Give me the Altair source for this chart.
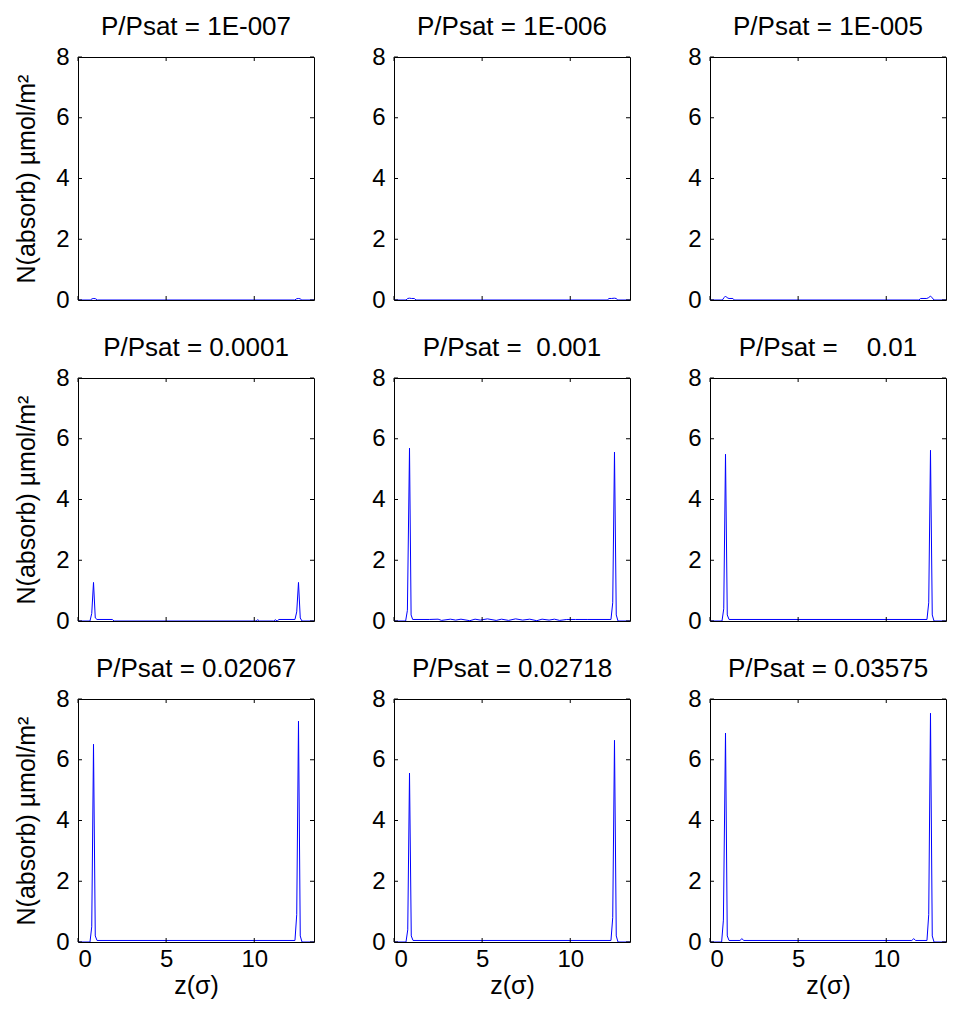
import altair as alt
import pandas as pd

TITLES = [
    "P/Psat = 1E-007", "P/Psat = 1E-006", "P/Psat = 1E-005",
    "P/Psat = 0.0001", "P/Psat =\u00a0\u00a00.001", "P/Psat =\u00a0\u00a0\u00a0\u00a00.01",
    "P/Psat = 0.02067", "P/Psat = 0.02718", "P/Psat = 0.03575",
]
X_TICKS = [0, 5, 10]
Y_TICKS = [0, 2, 4, 6, 8]
Z_MAX = 13.39
Y_MAX = 8

Z1 = [0, 0.7, 0.8, 0.9, 1.0, 1.1, 12.3, 12.4, 12.5, 12.6, 12.7, 13.39]
N1 = [0, 0, 0.04, 0.05, 0.04, 0, 0, 0.04, 0.05, 0.04, 0, 0]

Z2 = [0, 0.68, 0.78, 0.88, 1.0, 1.15, 1.25, 12.1, 12.2, 12.35, 12.5, 12.6, 12.7, 13.39]
N2 = [0, 0, 0.05, 0.06, 0.05, 0.05, 0, 0, 0.05, 0.05, 0.06, 0.05, 0, 0]

Z3 = [0, 0.7, 0.8, 0.88, 0.98, 1.08, 1.3, 1.38, 11.85, 11.95, 12.3, 12.41, 12.51, 12.61, 12.71, 13.39]
N3 = [0, 0, 0.08, 0.13, 0.07, 0.05, 0.05, 0, 0, 0.05, 0.05, 0.08, 0.13, 0.07, 0, 0]

Z4 = [0, 0.68, 0.78, 0.88, 0.98, 1.08, 1.95, 2.05, 10.1, 10.2, 10.3, 11.1, 11.2, 11.3, 11.4,
      12.31, 12.41, 12.51, 12.61, 12.71, 13.39]
N4 = [0, 0, 0.25, 1.27, 0.1, 0.05, 0.05, 0, 0, 0.04, 0, 0, 0.04, 0, 0.05,
      0.05, 0.3, 1.27, 0.1, 0, 0]

Z5 = [0, 0.66, 0.76, 0.88, 0.97, 1.06, 2.0, 2.5, 2.7, 3.2, 3.5, 3.8, 4.3, 4.6, 4.9, 5.3,
      5.8, 6.1, 6.5, 6.9, 7.3, 7.7, 8.1, 8.4, 8.8, 9.1, 9.4, 9.8, 10.3, 11.0, 12.2,
      12.31, 12.41, 12.51, 12.61, 12.71, 13.39]
N5 = [0, 0, 0.35, 5.69, 0.2, 0.05, 0.05, 0.06, 0.02, 0.06, 0.03, 0.06, 0.01, 0.06, 0.03, 0.07,
      0.02, 0.06, 0.02, 0.07, 0.03, 0.06, 0.01, 0.06, 0.03, 0.06, 0.02, 0.05, 0.05, 0.05, 0.05,
      0.05, 0.6, 5.56, 0.2, 0, 0]

Z6 = [0, 0.68, 0.78, 0.88, 0.98, 1.08, 12.31, 12.41, 12.51, 12.61, 12.71, 13.39]
N6 = [0, 0, 0.4, 5.49, 0.2, 0.05, 0.05, 0.6, 5.62, 0.2, 0, 0]

Z7 = [0, 0.68, 0.78, 0.88, 0.98, 1.08, 12.31, 12.41, 12.51, 12.61, 12.71, 13.39]
N7 = [0, 0, 0.5, 6.51, 0.2, 0.05, 0.05, 0.9, 7.27, 0.2, 0, 0]

Z8 = [0, 0.68, 0.78, 0.88, 0.98, 1.08, 12.31, 12.41, 12.51, 12.61, 12.71, 13.39]
N8 = [0, 0, 0.4, 5.56, 0.2, 0.05, 0.05, 0.8, 6.64, 0.2, 0, 0]

Z9 = [0, 0.66, 0.76, 0.88, 0.98, 1.08, 1.7, 1.81, 1.92, 11.45, 11.56, 11.67, 12.31, 12.41,
      12.51, 12.61, 12.71, 13.39]
N9 = [0, 0, 0.72, 6.88, 0.2, 0.05, 0.05, 0.11, 0.05, 0.05, 0.11, 0.05, 0.05, 0.9,
      7.53, 0.2, 0, 0]

ZS = [Z1, Z2, Z3, Z4, Z5, Z6, Z7, Z8, Z9]
NS = [N1, N2, N3, N4, N5, N6, N7, N8, N9]

W, H = 236, 243
TICK = 4
FONT = "Liberation Sans"
BLUE = "#0000ff"


def panel(i):
    row, col = divmod(i, 3)
    df = pd.DataFrame({"z": ZS[i], "n": NS[i]})
    xk = dict(values=X_TICKS, ticks=False, domain=False, grid=False, labels=(row == 2),
              labelFontSize=24, labelPadding=5, labelColor="black", format="d",
              titleFontSize=25, titleFontWeight="normal", titleColor="black", titlePadding=2)
    xk["title"] = "z(\u03c3)" if row == 2 else ""
    yk = dict(values=Y_TICKS, ticks=False, domain=False, grid=False, labels=True,
              labelFontSize=24, labelPadding=9, labelColor="black", format="d",
              titleFontSize=25, titleFontWeight="normal", titleColor="black", titlePadding=16)
    yk["title"] = "N(absorb) \u00b5mol/m\u00b2" if col == 0 else ""
    xax = alt.Axis(**xk)
    yax = alt.Axis(**yk)
    xs = alt.Scale(domain=[0, Z_MAX], nice=False, zero=False)
    ys = alt.Scale(domain=[0, Y_MAX], nice=False, zero=False)

    line = alt.Chart(df).mark_line(color=BLUE, strokeWidth=1, clip=True).encode(
        x=alt.X("z:Q", scale=xs, axis=xax),
        y=alt.Y("n:Q", scale=ys, axis=yax),
    )
    xt = pd.DataFrame({"z": X_TICKS})
    yt = pd.DataFrame({"n": Y_TICKS})
    xb = alt.Chart(xt).mark_rule(color="black", strokeWidth=1).encode(
        x=alt.X("z:Q", scale=xs, axis=xax), y=alt.value(H), y2=alt.value(H - TICK))
    xtp = alt.Chart(xt).mark_rule(color="black", strokeWidth=1).encode(
        x=alt.X("z:Q", scale=xs, axis=xax), y=alt.value(0), y2=alt.value(TICK))
    yl = alt.Chart(yt).mark_rule(color="black", strokeWidth=1).encode(
        y=alt.Y("n:Q", scale=ys, axis=yax), x=alt.value(0), x2=alt.value(TICK))
    yr = alt.Chart(yt).mark_rule(color="black", strokeWidth=1).encode(
        y=alt.Y("n:Q", scale=ys, axis=yax), x=alt.value(W), x2=alt.value(W - TICK))
    return alt.layer(line, xb, xtp, yl, yr).properties(
        width=W, height=H,
        title=alt.TitleParams(TITLES[i], fontSize=26, fontWeight="normal", font=FONT,
                              color="black", offset=5, anchor="middle"),
    )


chart = alt.concat(*[panel(i) for i in range(9)], columns=3,
                   spacing={"row": 78, "column": 80}, bounds="flush").properties(
    padding={"left": 6, "top": 5, "right": 0, "bottom": 0}
).configure(font=FONT, background="white").configure_view(
    stroke="black", strokeWidth=1
)

chart.save("out.html", embed_options={"renderer": "svg", "actions": False})
